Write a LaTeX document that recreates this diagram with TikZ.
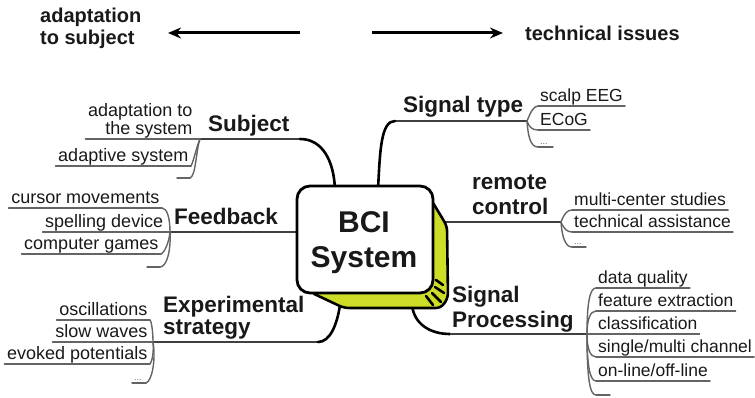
\documentclass[tikz,border=0pt]{standalone}
\usepackage{fontspec}
\setmainfont{Liberation Sans}
\usetikzlibrary{arrows.meta}
\definecolor{boxyellow}{RGB}{206,222,40}
\definecolor{inkdark}{RGB}{25,25,25}
\definecolor{inkgrey}{RGB}{100,100,100}

\begin{document}
\begin{tikzpicture}[x=1pt,y=-1pt,
  label/.style={font=\fontsize{22.5}{25}\selectfont\bfseries, text=inkdark, inner sep=0pt,
                text depth=0pt, anchor=south west, align=left},
  itemL/.style={font=\fontsize{18}{18.5}\selectfont, text=inkdark, inner xsep=2.5pt,
                inner ysep=4pt, text depth=0pt, anchor=south east, align=right},
  itemR/.style={font=\fontsize{17.5}{18.5}\selectfont, text=inkdark, inner xsep=2pt,
                inner ysep=4pt, text depth=0pt, anchor=south west, align=left},
  uline/.style={draw=inkgrey, line width=1.4pt, line cap=round},
  fork/.style={draw=inkgrey, line width=1.4pt, line cap=round},
  branch/.style={draw=black!75, line width=1.7pt},
  trunk/.style={draw=black, line width=2.6pt, line cap=round},
  dots/.style={font=\fontsize{9}{9}\selectfont, text=inkgrey, inner sep=0pt, anchor=south west},
  toparrow/.style={draw=black, line width=3pt, -{Stealth[length=13pt,width=11pt]}},
  toptext/.style={font=\fontsize{20}{22}\selectfont\bfseries, text=inkdark, inner sep=0pt,
                  text depth=0pt, anchor=south west, align=left}
]
\useasboundingbox (0,0) rectangle (755,398);

% ---------- direction header ----------
\node[toptext] (adapt) at (40,45) {adaptation\\to subject};
\node[toptext] (tech) at (525,41) {technical issues};
\coordinate (la0) at (300,33); \coordinate (la1) at (168,33);
\coordinate (ra0) at (372,33); \coordinate (ra1) at (503,33);
\draw[toparrow] (la0) -- (la1);
\draw[toparrow] (ra0) -- (ra1);

% ---------- attachment points on the central box ----------
\coordinate (bS) at (335,190);
\coordinate (bT) at (378,190);
\coordinate (bF) at (299,232);
\coordinate (bR) at (445,222);
\coordinate (bE) at (340,305);
\coordinate (bP) at (412,305);

% ---------- Subject ----------
\node[label] (subj) at (208,132) {Subject};
\coordinate (js) at (200,139);
\coordinate (ks) at (300,139);
\draw[branch] (js) -- (ks);
\draw[trunk] (ks) .. controls (322,139) and (334,160) .. (bS);
\node[itemL] (s1) at (195,139) {adaptation to\\the system};
\draw[uline] (s1.south west) -- (s1.south east) -- (js);
\node[itemL] (s2) at (191,166) {adaptive system};
\draw[uline] (s2.south west) -- (s2.south east);
\draw[fork] (js) .. controls (197,145) and (194,160) .. (s2.south east);
\coordinate (s3a) at (177,178); \coordinate (s3b) at (190,178);
\draw[uline] (s3a) -- (s3b);
\draw[fork] (js) .. controls (196,150) and (196,176) .. (s3b);

% ---------- Feedback ----------
\node[label] (fb) at (174,225) {Feedback};
\coordinate (jf) at (170,232);
\draw[branch] (jf) -- (bF);
\node[itemL] (f1) at (162,208) {cursor movements};
\draw[uline] (f1.south west) -- (f1.south east);
\draw[fork] (jf) .. controls (170,218) and (167,208) .. (f1.south east);
\node[itemL] (f2) at (166,232) {spelling device};
\draw[uline] (f2.south west) -- (f2.south east) -- (jf);
\node[itemL] (f3) at (161,254) {computer games};
\draw[uline] (f3.south west) -- (f3.south east);
\draw[fork] (jf) .. controls (169,242) and (165,252) .. (f3.south east);
\coordinate (f4a) at (147,267); \coordinate (f4b) at (160,267);
\draw[uline] (f4a) -- (f4b);
\draw[fork] (jf) .. controls (171,250) and (167,267) .. (f4b);

% ---------- Experimental strategy ----------
\node[label, font=\fontsize{22.5}{22.5}\selectfont\bfseries] (exp) at (163,335) {Experimental\\strategy};
\coordinate (je) at (153,342);
\coordinate (ke) at (318,342);
\draw[branch] (je) -- (ke);
\draw[trunk] (ke) .. controls (330,342) and (337,325) .. (bE);
\node[itemL] (e1) at (150,320) {oscillations};
\draw[uline] (e1.south west) -- (e1.south east);
\draw[fork] (je) .. controls (153,330) and (151,320) .. (e1.south east);
\node[itemL] (e2) at (150,342) {slow waves};
\draw[uline] (e2.south west) -- (e2.south east) -- (je);
\node[itemL] (e3) at (150,364) {evoked potentials};
\draw[uline] (e3.south west) -- (e3.south east);
\draw[fork] (je) .. controls (154,352) and (152,362) .. (e3.south east);
\coordinate (e4a) at (132,383); \coordinate (e4b) at (146,383);
\draw[uline] (e4a) -- (e4b);
\draw[fork] (je) .. controls (156,360) and (152,381) .. (e4b);
\node[dots] (e4d) at (134,381) {...};

% ---------- Signal type ----------
\node[label] (st) at (403,113) {Signal type};
\coordinate (jt) at (527,121);
\coordinate (kt) at (395,121);
\draw[branch] (kt) -- (jt);
\draw[trunk] (bT) .. controls (380,150) and (381,121) .. (kt);
\node[itemR] (t1) at (538,106) {scalp EEG};
\draw[uline] (t1.south west) -- (t1.south east);
\draw[fork] (jt) .. controls (530,114) and (533,106) .. (t1.south west);
\node[itemR] (t2) at (538,130) {ECoG};
\draw[uline] (t2.south west) -- (t2.south east);
\draw[fork] (jt) .. controls (529,127) and (532,130) .. (t2.south west);
\coordinate (t3a) at (538,147); \coordinate (t3b) at (553,147);
\draw[uline] (t3a) -- (t3b);
\draw[fork] (jt) .. controls (528,135) and (530,147) .. (t3a);
\node[dots] (t3d) at (540,145) {...};

% ---------- remote control ----------
\node[label] (rc) at (472,215) {remote\\control};
\coordinate (jr) at (561,222);
\draw[branch] (bR) -- (jr);
\node[itemR] (r1) at (572,210) {multi-center studies};
\draw[uline] (r1.south west) -- (r1.south east);
\draw[fork] (jr) .. controls (564,214) and (567,210) .. (r1.south west);
\node[itemR] (r2) at (572,232) {technical assistance};
\draw[uline] (r2.south west) -- (r2.south east);
\draw[fork] (jr) .. controls (564,229) and (567,232) .. (r2.south west);
\coordinate (r3a) at (572,247); \coordinate (r3b) at (586,247);
\draw[uline] (r3a) -- (r3b);
\draw[fork] (jr) .. controls (562,236) and (565,247) .. (r3a);
\node[dots] (r3d) at (574,245) {...};

% ---------- Signal Processing ----------
\node[label] (sp) at (452,328) {Signal\\Processing};
\coordinate (jp) at (587,334);
\coordinate (kp) at (450,334);
\draw[trunk] (bP) .. controls (414,324) and (430,334) .. (kp);
\draw[branch] (kp) -- (jp);
\node[itemR] (p1) at (596,288) {data quality};
\draw[uline] (p1.south west) -- (p1.south east);
\draw[fork] (jp) .. controls (587,302) and (590,288) .. (p1.south west);
\node[itemR] (p2) at (596,311) {feature extraction};
\draw[uline] (p2.south west) -- (p2.south east);
\draw[fork] (jp) .. controls (587,320) and (590,311) .. (p2.south west);
\node[itemR] (p3) at (596,334) {classification};
\draw[uline] (jp) -- (p3.south west) -- (p3.south east);
\node[itemR] (p4) at (596,357) {single/multi channel};
\draw[uline] (p4.south west) -- (p4.south east);
\draw[fork] (jp) .. controls (587,348) and (590,357) .. (p4.south west);
\node[itemR] (p5) at (596,381) {on-line/off-line};
\draw[uline] (p5.south west) -- (p5.south east);
\draw[fork] (jp) .. controls (587,366) and (590,381) .. (p5.south west);
\coordinate (p6a) at (596,395); \coordinate (p6b) at (610,395);
\draw[uline] (p6a) -- (p6b);
\draw[fork] (jp) .. controls (587,380) and (590,395) .. (p6a);

% ---------- central BCI box ----------
\draw[line width=2.6pt, fill=boxyellow, line join=round, rounded corners=5pt]
  (424,188) -- (447,226) -- (448,298) -- (441,308) -- (344,308) -- (310,292) -- cycle;
\draw[line width=2.8pt, fill=white, rounded corners=13pt] (297,186) rectangle (433,293);
\foreach \a/\b in {{(436,280)/(443,285)}, {(435,287)/(444,293)}, {(432,293)/(441,302)}, {(426,296)/(433,305)}}
  \draw[line width=2.6pt, line cap=round] \a -- \b;
\node[font=\fontsize{30}{35}\selectfont\bfseries, text=inkdark, align=center, inner sep=0pt,
      text depth=0pt, anchor=south] (bci) at (364,268) {BCI\\System};

\end{tikzpicture}
\end{document}
